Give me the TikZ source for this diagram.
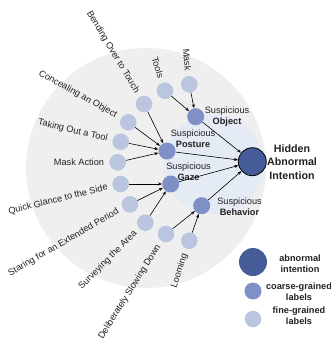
\documentclass[tikz,border=0pt]{standalone}
\usepackage{fontspec}
\setmainfont{Liberation Sans}
\usetikzlibrary{arrows.meta}
\definecolor{bgGray}{HTML}{EFEFEF}
\definecolor{bgBlue}{HTML}{E5EBF5}
\definecolor{darkNode}{HTML}{455C99}
\definecolor{midNode}{HTML}{7F90C6}
\definecolor{lightNode}{HTML}{BAC5DF}
\definecolor{txt}{HTML}{222222}
\begin{document}
\begin{tikzpicture}[x=1pt,y=1pt,
 fine/.style={circle,fill=lightNode,minimum size=16.6pt,inner sep=0},
 coarse/.style={circle,fill=midNode,minimum size=17pt,inner sep=0},
 topnode/.style={circle,fill=darkNode,draw=black,line width=0.8pt,minimum size=28pt,inner sep=0},
 lbl/.style={inner sep=0,font=\fontsize{9.2}{11}\selectfont,text=txt},
 clbl/.style={inner sep=0,font=\fontsize{9.2}{11}\selectfont,text=txt,align=center},
 leg/.style={inner sep=0,font=\fontsize{9.2}{11}\bfseries,text=txt,align=center},
 arr/.style={-{Stealth[length=4pt,width=3pt]},line width=0.6pt},
]
\useasboundingbox (0,0) rectangle (331,-346);
\fill[bgGray] (146,-168) circle (120);
\fill[bgBlue] (213.5,-164) circle (50);

% fine-grained nodes
\node[fine] (mask)  at (189.3,-84.3) {};
\node[fine] (tools) at (165,-90.7) {};
\node[fine] (bend)  at (144,-104) {};
\node[fine] (conc)  at (128.3,-122.3) {};
\node[fine] (take)  at (120.7,-141.7) {};
\node[fine] (mact)  at (117.7,-162.3) {};
\node[fine] (quick) at (120.7,-184) {};
\node[fine] (star)  at (130,-204.3) {};
\node[fine] (surv)  at (145.3,-222.7) {};
\node[fine] (delib) at (166,-234) {};
\node[fine] (loom)  at (189.3,-240.7) {};

% coarse nodes
\node[coarse] (obj)  at (195.7,-116.7) {};
\node[coarse] (post) at (167,-151) {};
\node[coarse] (gaze) at (170.7,-184) {};
\node[coarse] (beh)  at (201.7,-205.7) {};

% top node
\node[topnode] (hid) at (252.3,-161.7) {};

% connectors
\draw[arr] (mask) -- (obj);
\draw[arr] (tools) -- (obj);
\draw[arr] (bend) -- (post);
\draw[arr] (conc) -- (post);
\draw[arr] (take) -- (post);
\draw[arr] (mact) -- (post);
\draw[arr] (quick) -- (gaze);
\draw[arr] (star) -- (gaze);
\draw[arr] (surv) -- (gaze);
\draw[arr] (delib) -- (beh);
\draw[arr] (loom) -- (beh);
\draw[arr] (obj) -- (hid);
\draw[arr] (post) -- (hid);
\draw[arr] (gaze) -- (hid);
\draw[arr] (beh) -- (hid);

% fine labels
\path (mask)  ++(95:13.5pt)  node[lbl,rotate=-85,anchor=east] (lmask) {Mask};
\path (tools) ++(107:13.5pt) node[lbl,rotate=-73,anchor=east] (ltools) {Tools};
\path (bend)  ++(121:13.5pt) node[lbl,rotate=-59,anchor=east] (lbend) {Bending Over to Touch};
\path (conc)  ++(151:13.5pt) node[lbl,rotate=-29,anchor=east] (lconc) {Concealing an Object};
\path (take)  ++(167:13.5pt) node[lbl,rotate=-13,anchor=east] (ltake) {Taking Out a Tool};
\path (mact)  ++(180:13.5pt) node[lbl,anchor=east] (lmact) {Mask Action};
\path (quick) ++(194:13.5pt) node[lbl,rotate=14,anchor=east] (lquick) {Quick Glance to the Side};
\path (star)  ++(210:13.5pt) node[lbl,rotate=30,anchor=east] (lstar) {Staring for an Extended Period};
\path (surv)  ++(225:13.5pt) node[lbl,rotate=45,anchor=east] (lsurv) {Surveying the Area};
\path (delib) ++(238:13.5pt) node[lbl,rotate=58,anchor=east] (ldelib) {Deliberately Slowing Down};
\path (loom)  ++(252:13.5pt) node[lbl,rotate=72,anchor=east] (lloom) {Looming};

% coarse labels
\node[clbl] (lobj)  at (227,-116.5) {Suspicious\\\textbf{Object}};
\node[clbl] (lpost) at (193,-138.5) {Suspicious\\\textbf{Posture}};
\node[clbl] (lgaze) at (188.5,-171.5) {Suspicious\\\textbf{Gaze}};
\node[clbl] (lbeh)  at (239.5,-206.5) {Suspicious\\\textbf{Behavior}};

% top label
\node[inner sep=0,font=\fontsize{10.7}{13.5}\bfseries,text=txt,align=center] (lhid) at (292,-161.7) {Hidden\\Abnormal\\Intention};

% legend
\node[circle,fill=darkNode,minimum size=28pt,inner sep=0] (legA) at (253,-262) {};
\node[coarse] (legB) at (253,-291) {};
\node[fine] (legC) at (253,-319) {};
\node[leg] (tA) at (300,-263.5) {abnormal\\intention};
\node[leg] (tB) at (299,-291.5) {coarse-grained\\labels};
\node[leg] (tC) at (299,-316) {fine-grained\\labels};
\end{tikzpicture}
\end{document}
